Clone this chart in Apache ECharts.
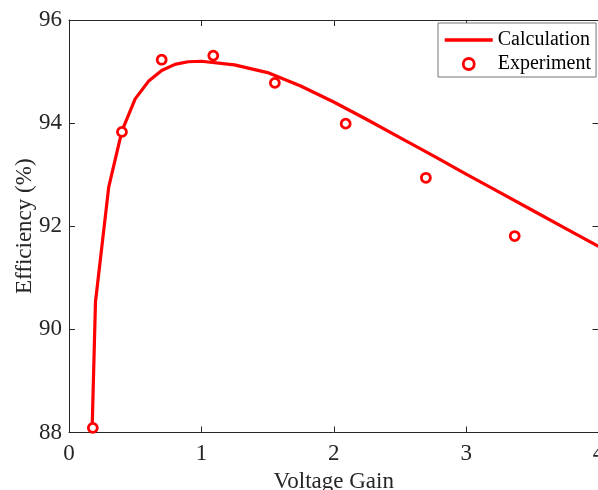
<!DOCTYPE html>
<html>
<head>
<meta charset="utf-8">
<script src="https://cdn.jsdelivr.net/npm/echarts@6/dist/echarts.min.js"></script>
<style>html,body{margin:0;padding:0;background:#fff;}#c{width:598px;height:490px;}</style>
</head>
<body>
<div id="c"></div>
<script>
const calcX = [0.175, 0.2, 0.3, 0.4, 0.5, 0.6, 0.7, 0.8, 0.9, 1.0, 1.25, 1.5, 1.75, 2.0, 2.25, 2.5, 2.75, 3.0, 3.25, 3.5, 3.75, 4.0];
const calcY = [88.1, 90.53, 92.76, 93.85, 94.47, 94.81, 95.02, 95.14, 95.19, 95.2, 95.13, 94.98, 94.72, 94.41, 94.07, 93.72, 93.37, 93.01, 92.66, 92.31, 91.96, 91.61];
const expX = [0.18, 0.4, 0.7, 1.09, 1.555, 2.09, 2.696, 3.367];
const expY = [88.09, 93.83, 95.23, 95.31, 94.78, 93.99, 92.94, 91.81];
const xTicks = [0, 1, 2, 3, 4];
const yTicks = [88, 90, 92, 94, 96];
const seriesNames = ['Calculation', 'Experiment'];

const font = 'Liberation Serif';
const axisCol = '#262626';
const chart = echarts.init(document.getElementById('c'), null, {renderer: 'canvas'});
const baseAxis = {
  axisLine: {show: true, onZero: false, lineStyle: {color: axisCol, width: 1}},
  axisTick: {show: true, inside: true, length: 6, lineStyle: {color: axisCol, width: 1}},
  splitLine: {show: false}
};
chart.setOption({
  animation: false,
  backgroundColor: '#ffffff',
  grid: {left: 69, top: 20, width: 529.5, height: 412.5, containLabel: false, outerBoundsMode: 'none'},
  legend: {
    orient: 'vertical', left: 438, top: 23,
    padding: [7, 5, 3, 5], borderColor: '#777', borderWidth: 1,
    backgroundColor: '#fff',
    itemWidth: 48, itemHeight: 11, itemGap: 4,
    textStyle: {fontFamily: font, fontSize: 20, color: '#000', lineHeight: 20},
    data: [
      {name: seriesNames[0], itemStyle: {color: 'rgba(0,0,0,0)', borderWidth: 0, opacity: 0},
        lineStyle: {color: '#ff0000', width: 3.5}},
      {name: seriesNames[1], icon: 'circle', itemStyle: {color: '#fff', borderColor: '#ff0000', borderWidth: 2.8}}
    ]
  },
  xAxis: [
    Object.assign({}, baseAxis, {
      type: 'value', min: 0, max: 4, interval: 1, position: 'bottom',
      name: 'Voltage Gain', nameLocation: 'middle', nameGap: 35,
      nameTextStyle: {fontFamily: font, fontSize: 23, color: axisCol},
      axisLabel: {margin: 10, fontFamily: font, fontSize: 23, color: axisCol,
        formatter: v => xTicks.includes(v) ? String(v) : ''}
    }),
    Object.assign({}, baseAxis, {
      type: 'value', min: 0, max: 4, interval: 1, position: 'top',
      axisLabel: {show: false}
    })
  ],
  yAxis: [
    Object.assign({}, baseAxis, {
      type: 'value', min: 88, max: 96, interval: 2, position: 'left',
      name: 'Efficiency (%)', nameLocation: 'middle', nameGap: 33, nameMoveOverlap: false,
      nameTextStyle: {fontFamily: font, fontSize: 23, color: axisCol},
      axisLabel: {margin: 7, fontFamily: font, fontSize: 23, color: axisCol,
        formatter: v => yTicks.includes(v) ? String(v) : ''}
    }),
    Object.assign({}, baseAxis, {
      type: 'value', min: 88, max: 96, interval: 2, position: 'right',
      axisLabel: {show: false}
    })
  ],
  series: [
    {
      name: seriesNames[0], type: 'line', xAxisIndex: 0, yAxisIndex: 0,
      data: calcX.map((x, i) => [x, calcY[i]]),
      symbol: 'none', smooth: false,
      lineStyle: {color: '#ff0000', width: 3.2},
      itemStyle: {color: '#ff0000'}
    },
    {
      name: seriesNames[1], type: 'scatter', xAxisIndex: 0, yAxisIndex: 0,
      data: expX.map((x, i) => [x, expY[i]]),
      symbol: 'circle', symbolSize: 9,
      itemStyle: {color: '#ffffff', borderColor: '#ff0000', borderWidth: 2.8, opacity: 1},
      z: 3
    }
  ]
});
</script>
</body>
</html>
